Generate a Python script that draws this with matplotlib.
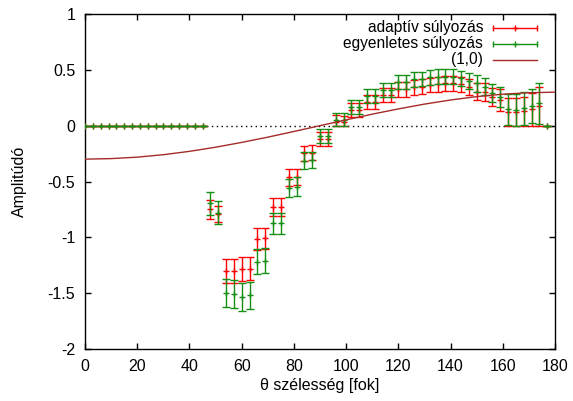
import numpy as np
import matplotlib
matplotlib.use("Agg")
import matplotlib.pyplot as plt

plt.rcParams['font.family'] = ['Liberation Sans', 'DejaVu Sans']
plt.rcParams['axes.unicode_minus'] = False

# ---------------- data ----------------
theta = list(range(0, 180, 3))  # 0 .. 177

adapt_val = [0.0] * 16 + [
    -0.75, -0.79, -1.30, -1.30, -1.285, -1.28, -1.015, -1.01, -0.73, -0.725,
    -0.462, -0.462, -0.247, -0.242, -0.12, -0.12, 0.035, 0.03, 0.14, 0.14,
    0.215, 0.215, 0.275, 0.275, 0.326, 0.326, 0.344, 0.35, 0.364, 0.37,
    0.38, 0.38, 0.37, 0.35, 0.305, 0.30, 0.26, 0.23, 0.125, 0.12,
    0.13, 0.145, 0.175, 0.0]
adapt_err = [0.0] * 16 + [
    0.085, 0.07, 0.105, 0.105, 0.105, 0.105, 0.095, 0.09, 0.082, 0.08,
    0.075, 0.07, 0.067, 0.066, 0.06, 0.06, 0.06, 0.06, 0.06, 0.06,
    0.062, 0.062, 0.062, 0.062, 0.065, 0.065, 0.065, 0.065, 0.065, 0.065,
    0.066, 0.068, 0.07, 0.072, 0.078, 0.08, 0.08, 0.10, 0.125, 0.125,
    0.13, 0.145, 0.175, 0.0]

unif_val = [0.0] * 16 + [
    -0.695, -0.78, -1.50, -1.51, -1.535, -1.52, -1.217, -1.208, -0.874, -0.874,
    -0.56, -0.546, -0.313, -0.307, -0.092, -0.092, 0.05, 0.05, 0.17, 0.17,
    0.263, 0.263, 0.32, 0.32, 0.388, 0.388, 0.415, 0.42, 0.433, 0.44,
    0.44, 0.44, 0.424, 0.403, 0.38, 0.35, 0.29, 0.26, 0.147, 0.14,
    0.155, 0.176, 0.20, 0.0]
unif_err = [0.0] * 16 + [
    0.105, 0.105, 0.127, 0.125, 0.125, 0.12, 0.11, 0.11, 0.093, 0.093,
    0.082, 0.082, 0.074, 0.072, 0.062, 0.062, 0.062, 0.062, 0.062, 0.062,
    0.063, 0.063, 0.064, 0.064, 0.064, 0.064, 0.065, 0.065, 0.065, 0.066,
    0.067, 0.068, 0.07, 0.072, 0.075, 0.075, 0.082, 0.09, 0.14, 0.14,
    0.145, 0.15, 0.185, 0.0]

# reference curve (1,0)
curve_theta = list(range(0, 181, 10))
curve_val = [-0.300, -0.295, -0.282, -0.260, -0.230, -0.193, -0.150, -0.103, -0.052, 0.0,
             0.052, 0.103, 0.150, 0.193, 0.230, 0.260, 0.282, 0.295, 0.300]

labels = ['adaptív súlyozás', 'egyenletes súlyozás', '(1,0)']
xticks = list(range(0, 181, 20))
yticks = [-2, -1.5, -1, -0.5, 0, 0.5, 1]
yticklabels = ['-2', '-1.5', '-1', '-0.5', '0', '0.5', '1']

RED = '#ff0000'
GREEN = '#148f14'
CURVE = '#a52a2a'

# ---------------- figure ----------------
W, H = 573, 401
AX_L, AX_R, AX_T, AX_B = 85, 555, 14, 349
fig = plt.figure(figsize=(W / 100, H / 100), dpi=100)
ax = fig.add_axes([AX_L / W, 1 - AX_B / H, (AX_R - AX_L) / W, (AX_B - AX_T) / H])

ax.axhline(0, color='black', lw=1.0, ls=(0, (1, 2.5)), zorder=1)


def draw(vals, errs, color, z):
    v = np.array(vals)
    e = np.array(errs)
    lower = np.where(v > 0, np.minimum(e, v), e)
    ax.errorbar(theta, v, yerr=[lower, e], fmt='+', color=color, ecolor=color,
                elinewidth=1.0, capsize=2.6, capthick=1.0, markersize=4.5,
                markeredgewidth=1.0, zorder=z)


draw(adapt_val, adapt_err, RED, 3)
draw(unif_val, unif_err, GREEN, 4)
ax.plot(curve_theta, curve_val, color=CURVE, lw=1.0, zorder=5)

ax.set_xlim(0, 180)
ax.set_ylim(-2, 1)
ax.set_xticks(xticks)
ax.set_yticks(yticks)
ax.set_yticklabels(yticklabels)
ax.tick_params(direction='in', length=4.5, width=1.0, top=True, right=True,
               labelsize=11.5, pad=7)
for s in ax.spines.values():
    s.set_linewidth(1.0)

ax.set_xlabel('θ szélesség [fok]', fontsize=11.5, labelpad=3)
ax.set_ylabel('Amplitúdó', fontsize=11.5, labelpad=15)


# ---------------- gnuplot-style key ----------------
def ax_x(px):
    return (px - AX_L) / (AX_R - AX_L)


def ax_y(py):
    return (AX_B - py) / (AX_B - AX_T)


row_y = [27.5, 43.5, 59.5]
txt_right, h0, h1 = 483, 493, 537
colors = [RED, GREEN, CURVE]
for i, (lab, col) in enumerate(zip(labels, colors)):
    yy = ax_y(row_y[i])
    ax.text(ax_x(txt_right), yy, lab, transform=ax.transAxes, ha='right',
            va='center', fontsize=11.2)
    ax.plot([ax_x(h0), ax_x(h1)], [yy, yy], color=col, lw=1.0,
            transform=ax.transAxes, clip_on=False, zorder=6)
    if i < 2:
        ax.plot([ax_x(h0), ax_x(h1)], [yy, yy], ls='none', marker='|',
                markersize=5, markeredgewidth=1.0, color=col,
                transform=ax.transAxes, clip_on=False, zorder=6)
        ax.plot([ax_x((h0 + h1) / 2)], [yy], ls='none', marker='+',
                markersize=4.5, markeredgewidth=1.0, color=col,
                transform=ax.transAxes, clip_on=False, zorder=6)

fig.savefig('out.png', dpi=100)
